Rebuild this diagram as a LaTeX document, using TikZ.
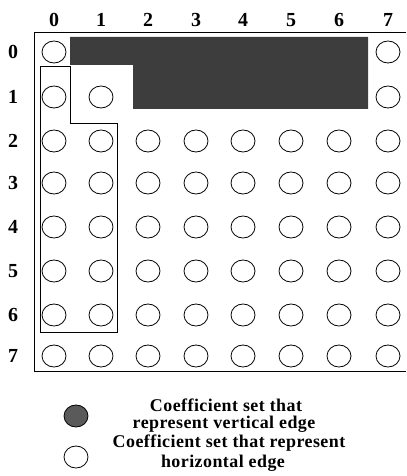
\documentclass[tikz,border=0pt]{standalone}
\usepackage{fontspec}
\setmainfont{Liberation Serif}
\usetikzlibrary{shapes.geometric}
\definecolor{darkfill}{gray}{0.24}
\tikzset{
  coef/.style={ellipse, draw=black, line width=0.8bp, minimum width=24bp, minimum height=22bp, inner sep=0pt},
  idx/.style={font=\fontsize{20}{20}\selectfont\bfseries, inner sep=0pt},
  legtext/.style={font=\fontsize{18}{20}\selectfont\bfseries\addfontfeature{LetterSpace=2.5}, align=center, inner sep=0pt},
  frameline/.style={line width=1bp, draw=black},
}
\begin{document}
\begin{tikzpicture}[x=1bp,y=-1bp]
\useasboundingbox (0,0) rectangle (406,476);
% column and row positions
\def\colxs{{54,101,148,196,243,291,339,388}}
\def\rowys{{52,97,141,183,227,271,315,356}}
% index labels
\foreach \i in {0,...,7}{
  \pgfmathsetmacro{\cx}{\colxs[\i]}
  \pgfmathsetmacro{\ry}{\rowys[\i]}
  \node[idx] (col\i) at (\cx,20) {\i};
  \node[idx] (row\i) at (13,\ry) {\i};
}
% outer frame (open on the right)
\draw[frameline] (406,33) -- (34,33) -- (34,371) -- (406,371);
% dark region
\fill[darkfill] (70,37) -- (368,37) -- (368,109) -- (133,109) -- (133,65) -- (70,65) -- cycle;
% L-shaped outline
\draw[line width=0.9bp] (40,66) -- (70,66) -- (70,123) -- (117,123) -- (117,332) -- (40,332) -- cycle;
% circles
\foreach \r in {0,...,7}{
  \foreach \c in {0,...,7}{
    \pgfmathsetmacro{\cx}{\colxs[\c]}
    \pgfmathsetmacro{\ry}{\rowys[\r]}
    \pgfmathtruncatemacro{\hide}{(\r==0 && \c>=1 && \c<=6) || (\r==1 && \c>=2 && \c<=6) ? 1 : 0}
    \ifnum\hide=0
      \node[coef] (c-\r-\c) at (\cx,\ry) {};
    \fi
  }
}
% legend
\node[coef, fill=darkfill!85] (legdark) at (76,416) {};
\node[coef] (leglight) at (76,457) {};
\node[legtext] (legt1) at (226,405) {Coefficient set that};
\node[legtext] (legt2) at (224,424) {represent vertical edge};
\node[legtext] (legt3) at (229,443) {Coefficient set that represent};
\node[legtext] (legt4) at (223,463) {horizontal edge};
\end{tikzpicture}
\end{document}
